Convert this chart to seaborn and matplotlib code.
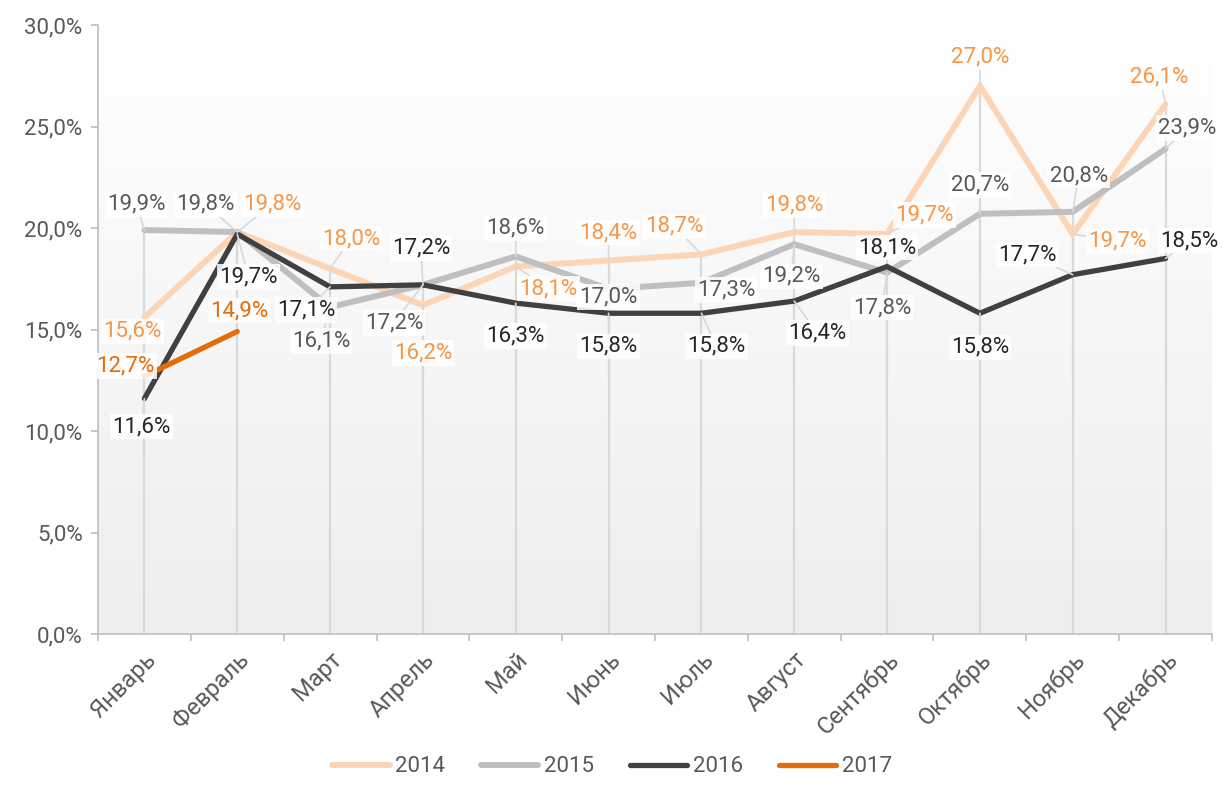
import numpy as np
import pandas as pd
import matplotlib
matplotlib.use("Agg")
import matplotlib.pyplot as plt
from matplotlib.lines import Line2D
import seaborn as sns

months = ["Январь", "Февраль", "Март", "Апрель", "Май", "Июнь", "Июль",
          "Август", "Сентябрь", "Октябрь", "Ноябрь", "Декабрь"]
y2014 = [15.6, 19.8, 18.0, 16.2, 18.1, 18.4, 18.7, 19.8, 19.7, 27.0, 19.7, 26.1]
y2015 = [19.9, 19.8, 16.1, 17.2, 18.6, 17.0, 17.3, 19.2, 17.8, 20.7, 20.8, 23.9]
y2016 = [11.6, 19.7, 17.1, 17.2, 16.3, 15.8, 15.8, 16.4, 18.1, 15.8, 17.7, 18.5]
y2017 = [12.7, 14.9]
years = ["2014", "2015", "2016", "2017"]

# label offsets in pixels (dx, dy up-positive) -- styling only
off2014 = [(-12, -14), (35, 28), (21, 30), (0, -48), (33, -22), (0, 28), (-27, 28),
           (0, 27), (37, 19), (0, 29), (45, -7), (-6, 27)]
off2015 = [(-8, 26), (-32, 28), (-9, -34), (-29, -38), (0, 28), (0, -8), (25, -7),
           (-3, -32), (-5, -35), (0, 29), (6, 36), (22, 21)]
off2016 = [(-3, -28), (11, -43), (-24, -23), (-2, 37), (0, -33), (0, -33), (15, -33),
           (23, -32), (0, 19), (0, -34), (-45, 20), (24, 18)]
off2017 = [(-19, 10), (2, 21)]

line_colors = {"2014": "#FBD5B5", "2015": "#BFBFBF", "2016": "#404040", "2017": "#E46C0A"}
label_colors = {"2014": "#F79646", "2015": "#595959", "2016": "#262626", "2017": "#E46C0A"}
widths = {"2014": 4.3, "2015": 4.3, "2016": 3.8, "2017": 3.8}

series = {"2014": y2014, "2015": y2015, "2016": y2016, "2017": y2017}
offsets = {"2014": off2014, "2015": off2015, "2016": off2016, "2017": off2017}

rows = []
for yr in years:
    for i, v in enumerate(series[yr]):
        rows.append({"year": yr, "x": i, "month": months[i], "value": v})
df = pd.DataFrame(rows)

sns.set_theme(style="white")
plt.rcParams["font.family"] = ["Roboto", "DejaVu Sans"]
FS = 16

fig = plt.figure(figsize=(12.24, 7.91), dpi=100)
ax = fig.add_axes([98 / 1224, 1 - 634 / 791, 1114 / 1224, 609 / 791])

# gradient background (white at top, light gray at bottom)
grad = np.linspace(0, 1, 256).reshape(-1, 1)
cmap = matplotlib.colors.LinearSegmentedColormap.from_list("g", ["#FFFFFF", "#EEEEEE"])
ax.imshow(grad, aspect="auto", cmap=cmap, extent=[-0.5, 11.5, 0, 30], zorder=0,
          origin="upper", interpolation="bilinear")

# drop lines
maxvals = df.groupby("x")["value"].max()
ax.vlines(maxvals.index, 0, maxvals.values, color="#D9D9D9", lw=1.6, zorder=1)

for yr in years:
    sub = df[df.year == yr]
    sns.lineplot(data=sub, x="x", y="value", ax=ax, color=line_colors[yr],
                 lw=widths[yr], solid_capstyle="round", solid_joinstyle="miter",
                 zorder=3, legend=False, sort=False)

# labels
for yr in years:
    for i, v in enumerate(series[yr]):
        dx, dy = offsets[yr][i]
        far = (dx * dx + dy * dy) ** 0.5 > 24
        ax.annotate(f"{v:.1f}%".replace(".", ","), xy=(i, v), xytext=(dx * 0.72, dy * 0.72),
                    textcoords="offset points", ha="center", va="center",
                    fontsize=FS, color=label_colors[yr], zorder=5,
                    bbox=dict(boxstyle="square,pad=0.1", fc="white", ec="none", alpha=0.85),
                    arrowprops=dict(arrowstyle="-", color="#D9D9D9", lw=1.2,
                                    shrinkA=0, shrinkB=0) if far else None)

ax.set_xlim(-0.5, 11.5)
ax.set_ylim(0, 30)
ax.set_yticks(np.arange(0, 31, 5))
ax.set_yticklabels([f"{t:.1f}%".replace(".", ",") for t in np.arange(0, 31, 5)])
ax.set_xticks(range(12))
ax.set_xticks(np.arange(-0.5, 12, 1), minor=True)
ax.set_xticklabels(months, rotation=45, ha="right", rotation_mode="anchor")
ax.set_xlabel("")
ax.set_ylabel("")
ax.tick_params(axis="y", labelsize=FS, labelcolor="#595959", length=5, color="#BFBFBF",
               direction="out", left=True, pad=6)
ax.tick_params(axis="x", which="major", labelsize=17, labelcolor="#595959", length=0, pad=10)
ax.tick_params(axis="x", which="minor", length=5, color="#BFBFBF", width=1.2,
               direction="out", bottom=True)
for s in ["top", "right"]:
    ax.spines[s].set_visible(False)
for s in ["left", "bottom"]:
    ax.spines[s].set_color("#BFBFBF")
    ax.spines[s].set_linewidth(1.2)
ax.grid(False)

handles = [Line2D([0], [0], color=line_colors[yr], lw=widths[yr], solid_capstyle="round")
           for yr in years]
leg = fig.legend(handles, years, loc="lower center", bbox_to_anchor=(0.5, -0.008), ncol=4,
                 frameon=False, fontsize=FS, handlelength=2.6, columnspacing=1.6,
                 handletextpad=0.25)
for t in leg.get_texts():
    t.set_color("#595959")

fig.savefig("out.png", dpi=100)
